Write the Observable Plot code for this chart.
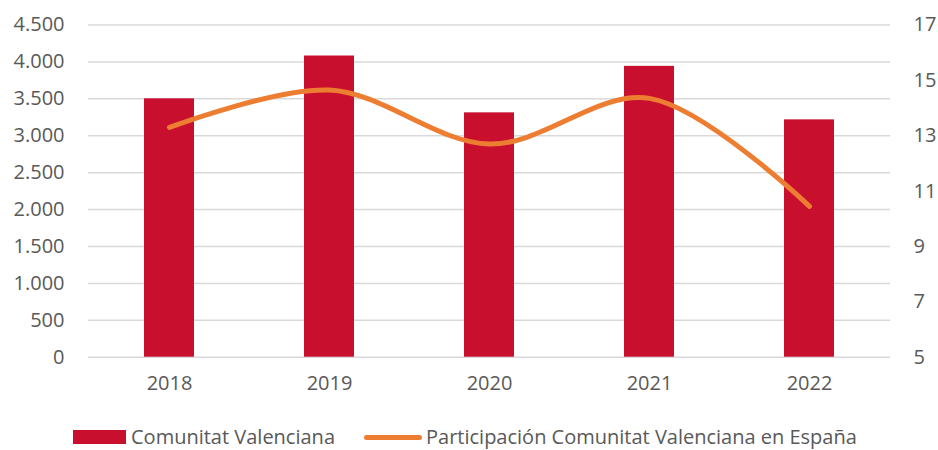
<!DOCTYPE html>
<html>
<head>
<meta charset="utf-8">
<script src="https://cdn.jsdelivr.net/npm/d3@7"></script>
<script src="https://cdn.jsdelivr.net/npm/@observablehq/plot@0.6"></script>
<style>
  html, body { margin: 0; padding: 0; background: #fff; }
  #wrap { width: 938px; height: 450px; position: relative; overflow: hidden; font-family: "Open Sans", sans-serif; }
  #legend { position: absolute; left: 73px; top: 426px; height: 22px; line-height: 22px; display: flex; align-items: center; font-size: 20px; color: #595959; white-space: nowrap; }
  .sw-bar { width: 53px; height: 14px; background: #C8102E; margin-right: 5px; }
  .sw-line { width: 58px; height: 5px; border-radius: 3px; background: #ED7D31; margin-right: 4px; margin-left: 29px; }
</style>
</head>
<body>
<div id="wrap">
  <div id="chart"></div>
  <div id="legend">
    <div class="sw-bar"></div><span>Comunitat Valenciana</span>
    <div class="sw-line"></div><span>Participación Comunitat Valenciana en España</span>
  </div>
</div>
<script>
const years = ["2018", "2019", "2020", "2021", "2022"];
const valencia = [3500, 4080, 3310, 3940, 3215];
const share = [13.3, 14.65, 12.7, 14.35, 10.45];
const leftTicks = [0, 500, 1000, 1500, 2000, 2500, 3000, 3500, 4000, 4500];
const rightTicks = [5, 7, 9, 11, 13, 15, 17];

const L0 = 0, L1 = 4500, R0 = 5, R1 = 17;
const toLeft = v => L0 + (v - R0) / (R1 - R0) * (L1 - L0);
const fromLeft = v => R0 + (v - L0) / (L1 - L0) * (R1 - R0);

const data = years.map((y, i) => ({year: y, value: valencia[i], share: share[i]}));

const esLocale = d3.formatLocale({decimal: ",", thousands: ".", grouping: [3], currency: ["", " €"]});
const fmt = esLocale.format(",");

const chart = Plot.plot({
  width: 938,
  height: 418,
  marginTop: 24.5,
  marginBottom: 61.3,
  marginLeft: 88,
  marginRight: 48,
  style: {fontFamily: "'Open Sans', sans-serif", fontSize: "20px", color: "#595959", background: "#fff"},
  x: {domain: years, paddingInner: 0.69, paddingOuter: 0.345, align: 0.5, label: null},
  y: {domain: [L0, L1], label: null},
  marks: [
    Plot.gridY(leftTicks, {stroke: "#d9d9d9", strokeOpacity: 1, strokeWidth: 1.5}),
    Plot.barY(data, {x: "year", y: "value", fill: "#C8102E"}),
    Plot.line(data, {x: "year", y: d => toLeft(d.share), stroke: "#ED7D31", strokeWidth: 5, curve: "catmull-rom", strokeLinecap: "round", strokeLinejoin: "round"}),
    Plot.axisY(leftTicks, {anchor: "left", tickSize: 0, tickPadding: 24, tickFormat: fmt, fontSize: 20}),
    Plot.axisY(rightTicks.map(toLeft), {anchor: "right", tickSize: 0, tickPadding: 23, tickFormat: v => String(Math.round(fromLeft(v))), fontSize: 20}),
    Plot.axisX({tickSize: 0, tickPadding: 19, fontSize: 20})
  ]
});
document.getElementById("chart").appendChild(chart);
</script>
</body>
</html>
